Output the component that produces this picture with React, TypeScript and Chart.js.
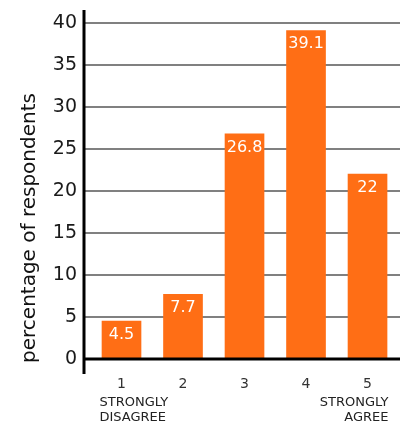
import React, { useEffect, useRef } from "react";
import { Chart, registerables } from "chart.js";

Chart.register(...registerables);

// Survey response scale (1 = strongly disagree ... 5 = strongly agree)
const categories = [1, 2, 3, 4, 5];
const percentages = [4.5, 7.7, 26.8, 39.1, 22];
const valueLabels = ["4.5", "7.7", "26.8", "39.1", "22"];
const yTicks = [0, 5, 10, 15, 20, 25, 30, 35, 40];
const yTitle = "percentage of respondents";
const lowEndLabel = ["STRONGLY", "DISAGREE"];
const highEndLabel = ["STRONGLY", "AGREE"];

const FONT = "'DejaVu Sans', sans-serif";
const ORANGE = "#FF6E15";

const decorations = {
  id: "decorations",
  afterDatasetsDraw(chart: any) {
    const { ctx, chartArea, scales } = chart;
    const xs = scales.x;
    const ys = scales.y;
    ctx.save();

    // value labels inside the top of each bar
    const meta = chart.getDatasetMeta(0);
    ctx.fillStyle = "#ffffff";
    ctx.font = `16px ${FONT}`;
    ctx.textAlign = "center";
    ctx.textBaseline = "middle";
    meta.data.forEach((bar: any, i: number) => {
      ctx.fillText(valueLabels[i], bar.x, bar.y + 13.5);
    });

    // axis lines
    ctx.strokeStyle = "#000000";
    ctx.lineWidth = 3;
    ctx.beginPath();
    ctx.moveTo(chartArea.left + 1, chartArea.top - 13);
    ctx.lineTo(chartArea.left + 1, chartArea.bottom + 15);
    ctx.stroke();
    const y0 = ys.getPixelForValue(0);
    ctx.beginPath();
    ctx.moveTo(chartArea.left, y0);
    ctx.lineTo(chartArea.right, y0);
    ctx.stroke();

    // end-of-scale annotations
    ctx.fillStyle = "#222222";
    ctx.font = `13px ${FONT}`;
    ctx.textBaseline = "middle";
    const x1 = xs.getPixelForValue(categories[0]);
    const x5 = xs.getPixelForValue(categories[categories.length - 1]);
    ctx.textAlign = "left";
    lowEndLabel.forEach((t, i) => ctx.fillText(t, x1 - 22, 403 + i * 15));
    ctx.textAlign = "right";
    highEndLabel.forEach((t, i) => ctx.fillText(t, x5 + 21, 403 + i * 15));

    // y axis title
    ctx.translate(30, 228);
    ctx.rotate(-Math.PI / 2);
    ctx.textAlign = "center";
    ctx.fillStyle = "#111111";
    ctx.font = `20px ${FONT}`;
    ctx.fillText(yTitle, 0, 0);

    ctx.restore();
  },
};

export default function App() {
  const ref = useRef<HTMLCanvasElement>(null);

  useEffect(() => {
    if (!ref.current) return;
    const chart = new Chart(ref.current, {
      type: "bar",
      data: {
        labels: categories,
        datasets: [
          {
            data: percentages,
            backgroundColor: ORANGE,
            borderWidth: 0,
            barThickness: 39,
          },
        ],
      },
      options: {
        animation: false,
        responsive: false,
        layout: { padding: { top: 23, right: 7, left: 0, bottom: 0 } },
        plugins: {
          legend: { display: false },
          tooltip: { enabled: false },
          title: { display: false },
        },
        scales: {
          x: {
            type: "linear",
            offset: false,
            min: 0.374,
            max: 5.528,
            grid: { display: false, offset: false },
            border: { display: false },
            ticks: {
              stepSize: 1,
              includeBounds: false,
              color: "#333333",
              font: { family: FONT, size: 14 },
              padding: 9,
            },
            afterFit(scale: any) {
              scale.height = 66;
            },
          },
          y: {
            min: 0,
            max: 40,
            afterBuildTicks(scale: any) {
              scale.ticks = yTicks.map((v) => ({ value: v }));
            },
            grid: {
              color: "#808080",
              lineWidth: 2,
              drawTicks: false,
            },
            border: { display: false },
            ticks: {
              color: "#1a1a1a",
              font: { family: FONT, size: 19 },
              padding: 6,
            },
            afterFit(scale: any) {
              scale.width = 83;
            },
          },
        },
      },
      plugins: [decorations],
    });
    return () => chart.destroy();
  }, []);

  return (
    <div style={{ position: "fixed", left: 0, top: 0, width: 407, height: 425 }}>
      <canvas ref={ref} width={407} height={425} style={{ display: "block" }} />
    </div>
  );
}
